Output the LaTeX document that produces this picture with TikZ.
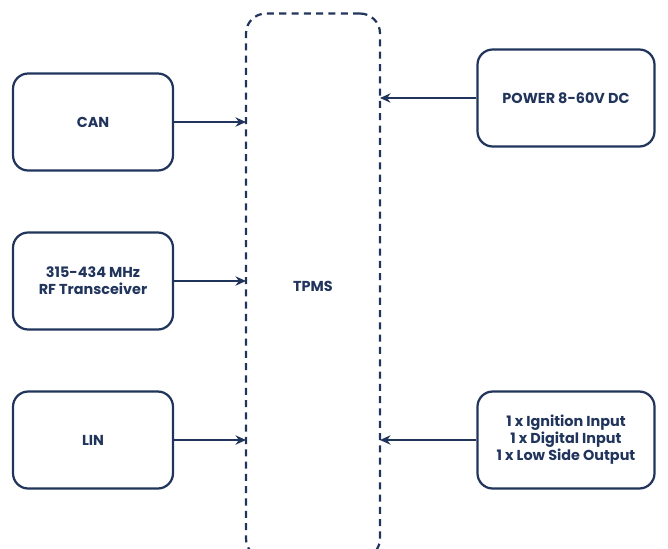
\documentclass[tikz,border=0pt]{standalone}
\usepackage{fontspec}
\setmainfont{Poppins}
\usepackage{tikz}
\usetikzlibrary{arrows.meta}
\definecolor{navy}{RGB}{32,52,92}

\begin{document}
\begin{tikzpicture}[x=0.03cm,y=-0.03cm,
        block/.style={draw=navy, line width=1.9pt, rounded corners=13pt, text=navy,
            font=\bfseries\fontsize{12.3}{14.5}\selectfont, align=center, inner sep=0pt},
        link/.style={draw=navy, line width=1.9pt, -{Stealth[length=9pt,width=8pt]}}]
        \clip (0,0) rectangle (668,548);
        \useasboundingbox (0,0) rectangle (668,548);
        % Hub
        \node[block, dashed, dash pattern=on 6pt off 4.5pt, minimum width=134*0.03cm, minimum height=545*0.03cm, rounded corners=17pt] (tpms) at (313,286) {TPMS};
        % Inputs left
        \node[block, minimum width=160*0.03cm, minimum height=97*0.03cm] (can) at (93,122) {CAN};
        \node[block, minimum width=160*0.03cm, minimum height=97*0.03cm] (rf) at (93,281) {315-434 MHz\\RF Transceiver};
        \node[block, minimum width=160*0.03cm, minimum height=97*0.03cm] (lin) at (93,440) {LIN};
        % Inputs right
        \node[block, minimum width=177*0.03cm, minimum height=97*0.03cm] (power) at (566,98) {POWER 8-60V DC};
        \node[block, minimum width=177*0.03cm, minimum height=97*0.03cm] (io) at (566,440) {1 x Ignition Input\\1 x Digital Input\\1 x Low Side Output};
        % Links
        \coordinate (canin) at (246,122);
        \coordinate (rfin) at (246,281);
        \coordinate (linin) at (246,440);
        \coordinate (powerin) at (380,98);
        \coordinate (ioin) at (380,440);
        \draw[link] (can) -- (canin);
        \draw[link] (rf) -- (rfin);
        \draw[link] (lin) -- (linin);
        \draw[link] (power) -- (powerin);
        \draw[link] (io) -- (ioin);
    \end{tikzpicture}
\end{document}
